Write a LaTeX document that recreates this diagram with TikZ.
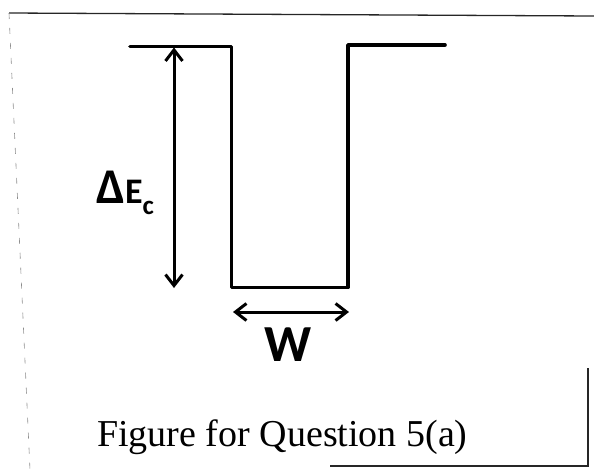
\documentclass[tikz,border=0pt]{standalone}
\usepackage{fontspec}
\setmainfont{Liberation Serif}
\newfontfamily\bandfont{Carlito}
\usetikzlibrary{arrows.meta}
\tikzset{
  bandedge/.style={line width=3.6pt, line join=round, line cap=round},
  dimarrow/.style={{Straight Barb[length=11pt,width=17pt]}-{Straight Barb[length=11pt,width=17pt]},
    line width=3pt},
  bandlabel/.style={font=\bandfont\bfseries, inner sep=0pt},
  captiontext/.style={font=\fontsize{38}{38}\selectfont, inner sep=0pt},
  frameline/.style={line width=1.3pt, black!85},
  faintline/.style={line width=0.6pt, black!45, dash pattern=on 6pt off 9pt}
}

\begin{document}
\begin{tikzpicture}[x=1pt,y=-1pt]
  \useasboundingbox (0,0) rectangle (594,472);
  % scanned page edges
  \coordinate (pageTL) at (9,13);
  \coordinate (pageTR) at (594,16);
  \coordinate (pageBL) at (30,470);
  \coordinate (rightTop) at (588,368);
  \coordinate (rightBot) at (588,466);
  \coordinate (botLeft) at (330,466);
  \draw[frameline] (pageTL) -- (pageTR);
  \draw[frameline] (rightTop) -- (rightBot) -- (botLeft);
  \draw[faintline] (pageTL) -- (pageBL);
  % conduction band edge of the well
  \coordinate (leftEnd) at (130,46.5);
  \coordinate (wellTL) at (231.5,46.5);
  \coordinate (wellBL) at (231.5,287.5);
  \coordinate (wellBR) at (348,287.5);
  \coordinate (wellTR) at (348,45);
  \coordinate (rightEnd) at (445,45);
  \draw[bandedge] (leftEnd) -- (wellTL) -- (wellBL) -- (wellBR) -- (wellTR) -- (rightEnd);
  % band offset and width
  \coordinate (offsetTop) at (174,47.5);
  \coordinate (offsetBot) at (174,288);
  \draw[dimarrow] (offsetTop) -- (offsetBot);
  \coordinate (widthLeft) at (233,312);
  \coordinate (widthRight) at (349,312);
  \draw[dimarrow] (widthLeft) -- (widthRight);
  \node[bandlabel, anchor=base west] (deltaEc) at (96,203)
    {{\fontsize{50}{50}\selectfont Δ}{\fontsize{36}{36}\selectfont E}\raisebox{-11pt}{\fontsize{27}{27}\selectfont c}};
  \node[bandlabel, anchor=base, font=\bandfont\bfseries\fontsize{52}{52}\selectfont] (wellW) at (288,361) {W};
  \node[captiontext, anchor=base west] (caption) at (97,446) {Figure for Question 5(a)};
\end{tikzpicture}
\end{document}
